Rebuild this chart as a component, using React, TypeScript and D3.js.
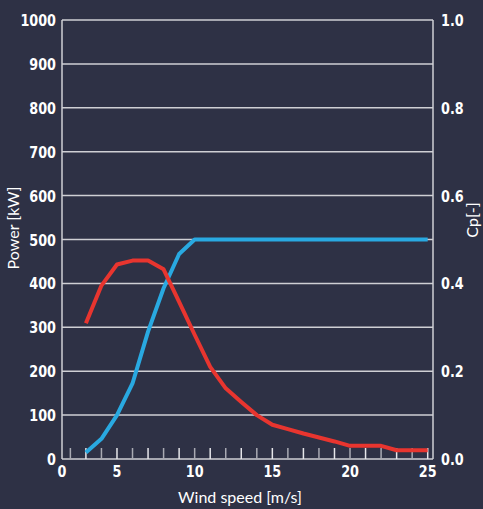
import React from "react";
import * as d3 from "d3";

const windSpeed = [3, 4, 5, 6, 7, 8, 9, 10, 11, 12, 13, 14, 15, 16, 17, 18, 19, 20, 21, 22, 23, 24, 25];
const power = [15, 46, 100, 172, 290, 389, 467, 500, 500, 500, 500, 500, 500, 500, 500, 500, 500, 500, 500, 500, 500, 500, 500];
const cp = [0.309, 0.395, 0.443, 0.452, 0.452, 0.432, 0.358, 0.283, 0.21, 0.161, 0.13, 0.1, 0.078, 0.068, 0.058, 0.049, 0.04, 0.03, 0.03, 0.03, 0.02, 0.02, 0.02];
const powerTicks = [0, 100, 200, 300, 400, 500, 600, 700, 800, 900, 1000];
const cpTicks = [0, 0.2, 0.4, 0.6, 0.8, 1.0];
const xLabelTicks = [5, 10, 15, 20, 25];
const minorTicks = d3.range(2, 26);

const W = 483, H = 509;
const left = 62, right = 433, top = 20, bottom = 459;

function TickText({ x, y, anchor, children }: { x: number; y: number; anchor: string; children: any }) {
  return (
    <text
      transform={`translate(${x},${y}) scale(0.8,1)`}
      textAnchor={anchor}
      fill="#ffffff"
      fontFamily="'DejaVu Sans', sans-serif"
      fontWeight="bold"
      fontSize={16}
    >
      {children}
    </text>
  );
}

export default function App() {
  const x = d3.scaleLinear().domain([0, 25]).range([39.3, 427.7]);
  const yP = d3.scaleLinear().domain([0, 1000]).range([bottom, top]);
  const yC = d3.scaleLinear().domain([0, 1]).range([bottom, top]);
  const pLine = d3.line<number>().x((_, i) => x(windSpeed[i])).y((d) => yP(d));
  const cLine = d3.line<number>().x((_, i) => x(windSpeed[i])).y((d) => yC(d));
  const bg = "#2e3145";
  const grid = "#cfcfd4";
  return (
    <svg width={W} height={H} style={{ position: "absolute", left: 0, top: 0, background: bg }}>
      <rect x={0} y={0} width={W} height={H} fill={bg} />
      {powerTicks.filter((t) => t > 0).map((t) => (
        <line key={"g" + t} x1={left} x2={right} y1={yP(t)} y2={yP(t)} stroke={grid} strokeWidth={1.5} />
      ))}
      <line x1={left} x2={left} y1={top} y2={bottom} stroke={grid} strokeWidth={1.5} />
      <line x1={right} x2={right} y1={top} y2={bottom} stroke={grid} strokeWidth={1.5} />
      <line x1={left} x2={right} y1={bottom} y2={bottom} stroke={grid} strokeWidth={1.5} />
      {minorTicks.map((t) => (
        <line key={"m" + t} x1={x(t)} x2={x(t)} y1={bottom} y2={bottom - 11} stroke={t % 2 === 0 ? "#a9aab3" : "#e6e6ea"} strokeWidth={1.5} />
      ))}
      {powerTicks.map((t) => (
        <TickText key={"pl" + t} x={56} y={yP(t) + 6} anchor="end">{t}</TickText>
      ))}
      {cpTicks.map((t) => (
        <TickText key={"cl" + t} x={441} y={yC(t) + 6} anchor="start">{t.toFixed(1)}</TickText>
      ))}
      <TickText x={left} y={477} anchor="middle">0</TickText>
      {xLabelTicks.map((t) => (
        <TickText key={"xl" + t} x={x(t)} y={477} anchor="middle">{t}</TickText>
      ))}
      <text x={240} y={503} textAnchor="middle" fill="#ffffff" fontFamily="Lato, sans-serif" fontSize={16}>
        Wind speed [m/s]
      </text>
      <text transform={`translate(19,228) rotate(-90)`} textAnchor="middle" fill="#ffffff" fontFamily="Lato, sans-serif" fontSize={16}>
        Power [kW]
      </text>
      <text transform={`translate(478,220) rotate(-90)`} textAnchor="middle" fill="#ffffff" fontFamily="Lato, sans-serif" fontSize={16}>
        Cp[-]
      </text>
      <path d={pLine(power) || ""} fill="none" stroke="#29a9e1" strokeWidth={4} strokeLinejoin="round" />
      <path d={cLine(cp) || ""} fill="none" stroke="#e8352f" strokeWidth={4} strokeLinejoin="round" />
    </svg>
  );
}
